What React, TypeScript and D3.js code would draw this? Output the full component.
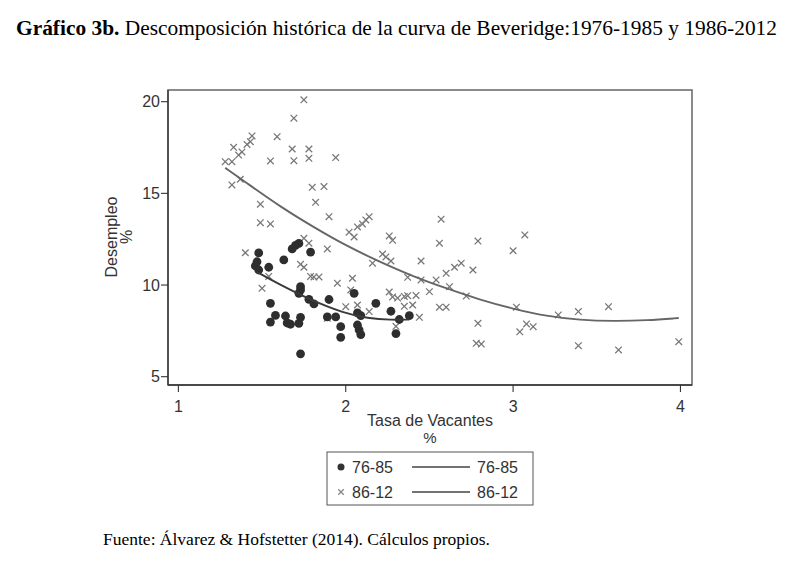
import * as d3 from 'd3';

// Tasa de vacantes (%) y desempleo (%)
const vac7685 = [1.48, 1.47, 1.46, 1.48, 1.54, 1.63, 1.68, 1.70, 1.72, 1.79,
  1.73, 1.73, 1.72, 1.78, 1.81, 1.55, 1.58, 1.55, 1.64, 1.65,
  1.67, 1.72, 1.73, 1.73, 1.90, 1.89, 1.94, 1.97, 1.97, 2.05,
  2.07, 2.09, 2.07, 2.08, 2.09, 2.18, 2.27, 2.32, 2.38, 2.30];
const unemp7685 = [11.75, 11.27, 11.04, 10.82, 10.97, 11.37, 11.97, 12.16, 12.27, 11.80,
  9.91, 9.73, 9.55, 9.22, 8.97, 9.00, 8.34, 7.98, 8.31, 7.93,
  7.86, 7.91, 8.24, 6.25, 9.21, 8.26, 8.26, 7.73, 7.15, 9.55,
  8.48, 8.33, 7.82, 7.55, 7.30, 9.00, 8.57, 8.12, 8.33, 7.35];

const vac8612 = [1.28, 1.32, 1.33, 1.36, 1.38, 1.41, 1.43, 1.44, 1.32, 1.37,
  1.49, 1.49, 1.55, 1.55, 1.59, 1.69, 1.75, 1.68, 1.78, 1.69,
  1.78, 1.94, 1.80, 1.87, 1.82, 1.90, 2.02, 2.05, 2.07, 2.10,
  2.12, 2.14, 2.26, 2.28, 2.57, 2.56, 2.79, 3.07, 3.00, 2.22,
  2.24, 2.27, 2.45, 2.16, 1.89, 1.75, 1.78, 1.40, 1.50, 1.73,
  1.75, 1.79, 1.81, 1.84, 1.54, 1.95, 2.04, 2.03, 2.00, 2.07,
  2.14, 1.89, 2.26, 2.28, 2.31, 2.35, 2.37, 2.42, 2.35, 2.40,
  2.44, 2.30, 2.37, 2.45, 2.54, 2.60, 2.65, 2.69, 2.76, 2.62,
  2.50, 2.72, 2.56, 2.60, 2.79, 2.78, 2.81, 3.04, 3.08, 3.12,
  3.02, 3.27, 3.39, 3.57, 3.39, 3.63, 3.99];
const unemp8612 = [16.73, 16.73, 17.51, 17.09, 17.26, 17.67, 17.82, 18.13, 15.46, 15.77,
  14.41, 13.40, 13.33, 16.77, 18.09, 19.10, 20.10, 17.42, 17.42, 16.78,
  16.91, 16.95, 15.33, 15.37, 14.51, 13.73, 12.88, 12.62, 13.17, 13.33,
  13.55, 13.73, 12.68, 12.44, 13.59, 12.28, 12.40, 12.73, 11.87, 11.69,
  11.53, 11.31, 11.31, 11.19, 11.97, 12.55, 12.28, 11.76, 9.82, 11.13,
  10.97, 10.47, 10.44, 10.44, 10.47, 10.10, 10.37, 9.73, 8.82, 8.91,
  8.55, 8.19, 9.62, 9.35, 9.29, 9.38, 9.42, 9.43, 8.84, 8.91,
  8.24, 7.75, 10.42, 10.28, 10.28, 10.64, 10.97, 11.19, 10.82, 9.91,
  9.64, 9.40, 8.79, 8.79, 7.91, 6.82, 6.78, 7.45, 7.88, 7.73,
  8.79, 8.37, 8.55, 8.82, 6.69, 6.46, 6.91];

// Ajustes cuadráticos
const fit7685Vac = [1.47, 1.59, 1.79, 1.99, 2.13, 2.27, 2.38];
const fit7685Unemp = [10.71, 10.10, 9.18, 8.46, 8.19, 8.09, 8.12];
const fit8612Vac = [1.28, 1.40, 1.62, 1.81, 2.00, 2.20, 2.40, 2.60, 2.80, 3.00, 3.20, 3.40, 3.60, 3.80, 3.99];
const fit8612Unemp = [16.39, 15.62, 14.20, 13.15, 12.15, 11.28, 10.48, 9.82, 9.20, 8.70, 8.30, 8.09, 8.03, 8.07, 8.20];

const xTicks = [1, 2, 3, 4];
const yTicks = [5, 10, 15, 20];
const legendLabels = ['76-85', '86-12'];

const W = 804;
const H = 574;
const plot = { left: 168, right: 692, top: 90, bottom: 385 };
const sans = '"Liberation Sans", Arial, sans-serif';
const serif = '"Liberation Serif", "Times New Roman", serif';

function Cross({ cx, cy, s = 3.3, color = '#777' }: { cx: number; cy: number; s?: number; color?: string }) {
  return (
    <g stroke={color} strokeWidth={1.25}>
      <line x1={cx - s} y1={cy - s} x2={cx + s} y2={cy + s} />
      <line x1={cx - s} y1={cy + s} x2={cx + s} y2={cy - s} />
    </g>
  );
}

export default function App() {
  const x = d3.scaleLinear().domain([0.938, 4.069]).range([plot.left, plot.right]);
  const y = d3.scaleLinear().domain([4.547, 20.638]).range([plot.bottom, plot.top]);

  const path7685 = d3.line<number>().curve(d3.curveBasis)
    .x(i => x(fit7685Vac[i])).y(i => y(fit7685Unemp[i]))(d3.range(fit7685Vac.length));
  const path8612 = d3.line<number>().curve(d3.curveBasis)
    .x(i => x(fit8612Vac[i])).y(i => y(fit8612Unemp[i]))(d3.range(fit8612Vac.length));

  return (
    <svg width={W} height={H} style={{ position: 'absolute', left: 0, top: 0, background: '#fff' }}>
      <text x={16} y={35} fontFamily={serif} fontSize={21.4} fill="#000">
        <tspan fontWeight="bold">Gráfico 3b.</tspan>
        <tspan> Descomposición histórica de la curva de Beveridge:1976-1985 y 1986-2012</tspan>
      </text>

      {/* marco */}
      <rect x={plot.left} y={plot.top} width={plot.right - plot.left} height={plot.bottom - plot.top}
        fill="none" stroke="#6e6e6e" strokeWidth={1.6} />
      <line x1={plot.left} y1={plot.top} x2={plot.left} y2={plot.bottom} stroke="#333" strokeWidth={1.3} />
      <line x1={plot.left} y1={plot.bottom} x2={plot.right} y2={plot.bottom} stroke="#333" strokeWidth={1.3} />

      {/* eje Y */}
      {yTicks.map(t => (
        <g key={t}>
          <line x1={plot.left - 7} x2={plot.left} y1={y(t)} y2={y(t)} stroke="#333" strokeWidth={1.1} />
          <text x={plot.left - 8} y={y(t)} dy="0.36em" textAnchor="end" fontFamily={sans} fontSize={16} fill="#333">{t}</text>
        </g>
      ))}
      <g transform="translate(111,237) rotate(-90)">
        <text textAnchor="middle" fontFamily={sans} fontSize={16} fill="#333" y={0} dy="0.35em">Desempleo</text>
        <text textAnchor="middle" fontFamily={sans} fontSize={16} fill="#333" y={15} dy="0.35em">%</text>
      </g>

      {/* eje X */}
      {xTicks.map(t => (
        <g key={t}>
          <line x1={x(t)} x2={x(t)} y1={plot.bottom} y2={plot.bottom + 7} stroke="#333" strokeWidth={1.1} />
          <text x={x(t)} y={412} textAnchor="middle" fontFamily={sans} fontSize={16} fill="#333">{t}</text>
        </g>
      ))}
      <text x={430} y={426} textAnchor="middle" fontFamily={sans} fontSize={16} fill="#333">Tasa de Vacantes</text>
      <text x={430} y={443} textAnchor="middle" fontFamily={sans} fontSize={15} fill="#333">%</text>

      {/* puntos */}
      {vac8612.map((v, i) => (
        <Cross key={'c' + i} cx={x(v)} cy={y(unemp8612[i])} />
      ))}
      {vac7685.map((v, i) => (
        <circle key={'d' + i} cx={x(v)} cy={y(unemp7685[i])} r={4.4} fill="#2e2e2e" />
      ))}

      <path d={path8612 || ''} fill="none" stroke="#666" strokeWidth={1.9} />
      <path d={path7685 || ''} fill="none" stroke="#3a3a3a" strokeWidth={1.9} />

      {/* leyenda */}
      <rect x={327} y={452} width={206} height={53} fill="#fff" stroke="#555" strokeWidth={1} />
      {legendLabels.map((lab, i) => {
        const cy = 467 + i * 25;
        return (
          <g key={lab}>
            {i === 0
              ? <circle cx={341} cy={cy} r={3.5} fill="#333" />
              : <Cross cx={341} cy={cy} s={2.8} color="#888" />}
            <text x={352} y={cy} dy="0.36em" fontFamily={sans} fontSize={16} fill="#333">{lab}</text>
            <line x1={412} x2={470} y1={cy} y2={cy} stroke="#444" strokeWidth={1.4} />
            <text x={477} y={cy} dy="0.36em" fontFamily={sans} fontSize={16} fill="#333">{lab}</text>
          </g>
        );
      })}

      <text x={103} y={545} fontFamily={serif} fontSize={17.5} fill="#000">
        Fuente: Álvarez &amp; Hofstetter (2014). Cálculos propios.
      </text>
    </svg>
  );
}
